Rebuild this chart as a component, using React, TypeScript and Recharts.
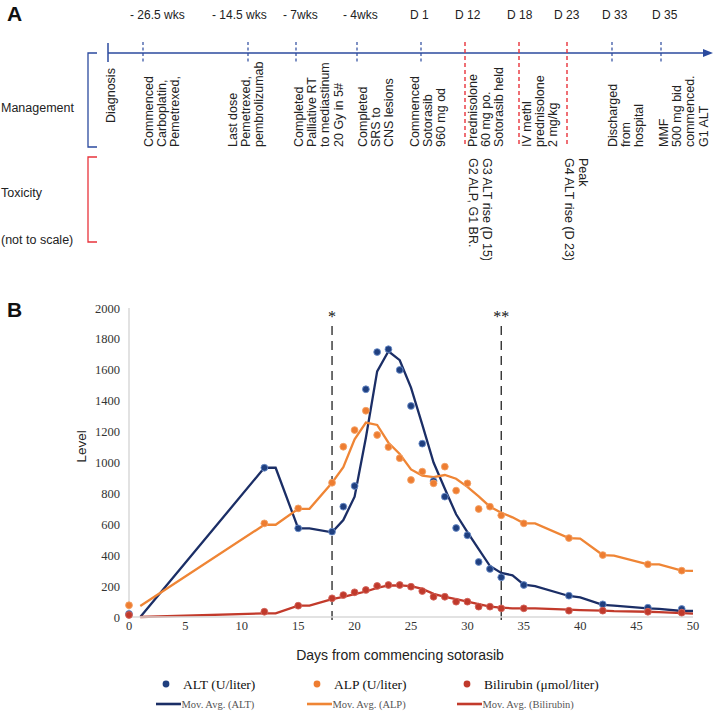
import { ComposedChart, Scatter, Line, XAxis, YAxis, ReferenceLine } from 'recharts';

const SANS = '"Liberation Sans", Arial, sans-serif';
const SERIF = '"Liberation Serif", "Times New Roman", serif';

// panel B: measured days and lab values
const pointDays = [0, 12, 15, 18, 19, 20, 21, 22, 23, 24, 25, 26, 27, 28, 29, 30, 31, 32, 33, 35, 39, 42, 46, 49];
const altValues = [20, 966, 574, 552, 714, 848, 1474, 1715, 1733, 1599, 1366, 1122, 880, 779, 576, 529, 356, 311, 257, 207, 138, 82, 60, 52];
const alpValues = [76, 606, 703, 869, 1102, 1210, 1335, 1178, 1100, 1028, 887, 941, 865, 973, 818, 865, 699, 714, 658, 606, 511, 401, 341, 300];
const biliValues = [13, 34, 73, 121, 142, 160, 175, 201, 207, 207, 196, 168, 131, 131, 99, 99, 67, 67, 56, 56, 41, 41, 34, 28];

// moving average trend lines
const maDays = [1, 12, 13, 15, 16, 18, 19, 20, 21, 22, 23, 24, 25, 26, 27, 28, 29, 30, 31, 32, 33, 34, 35, 36, 39, 40, 42, 43, 46, 47, 49, 50];
const altMA = [0, 966, 966, 574, 574, 548, 628, 779, 1160, 1590, 1720, 1662, 1485, 1245, 1000, 830, 665, 550, 440, 330, 285, 270, 210, 200, 136, 127, 78, 73, 56, 52, 39, 39];
const alpMA = [71, 597, 597, 700, 700, 869, 970, 1150, 1258, 1243, 1128, 1055, 955, 915, 905, 919, 895, 842, 780, 714, 675, 645, 606, 606, 511, 507, 401, 397, 341, 341, 300, 298];
const biliMA = [0, 24, 24, 73, 73, 115, 130, 148, 165, 188, 204, 205, 200, 182, 150, 131, 115, 99, 83, 67, 61, 56, 56, 56, 48, 45, 41, 38, 34, 31, 25, 22];

const xTicks = [0, 5, 10, 15, 20, 25, 30, 35, 40, 45, 50];
const yTicks = [0, 200, 400, 600, 800, 1000, 1200, 1400, 1600, 1800, 2000];

const markers = [
  { day: 18, label: '*' },
  { day: 33, label: '**' },
];

// panel A: timeline
const timeLabels = [
  { x: 130, text: '- 26.5 wks' },
  { x: 212, text: '- 14.5 wks' },
  { x: 283, text: '- 7wks' },
  { x: 343, text: '- 4wks' },
  { x: 410, text: 'D 1' },
  { x: 455, text: 'D 12' },
  { x: 507, text: 'D 18' },
  { x: 554, text: 'D 23' },
  { x: 602, text: 'D 33' },
  { x: 652, text: 'D 35' },
];

const eventTicks = [
  { x: 143, kind: 'mgmt' },
  { x: 248, kind: 'mgmt' },
  { x: 296, kind: 'mgmt' },
  { x: 357, kind: 'mgmt' },
  { x: 421, kind: 'mgmt' },
  { x: 465, kind: 'tox' },
  { x: 519, kind: 'tox' },
  { x: 567, kind: 'tox' },
  { x: 612, kind: 'mgmt' },
  { x: 661, kind: 'mgmt' },
];

const managementNotes = [
  { x: 110, y: 123, lines: ['Diagnosis'] },
  { x: 148, y: 147, lines: ['Commenced', 'Carboplatin,', 'Pemetrexed,'] },
  { x: 232, y: 147, lines: ['Last dose', 'Pemetrexed,', 'pembrolizumab'] },
  { x: 298, y: 147, lines: ['Completed', 'Palliative RT', 'to mediastinum', '20 Gy in 5#'] },
  { x: 362, y: 147, lines: ['Completed', 'SRS to', 'CNS lesions'] },
  { x: 414, y: 147, lines: ['Commenced', 'Sotorasib', '960 mg od'] },
  { x: 472, y: 147, lines: ['Prednisolone', '60 mg po.', 'Sotorasib held'] },
  { x: 526, y: 147, lines: ['IV methl', 'prednisolone', '2 mg/kg'] },
  { x: 612, y: 147, lines: ['Discharged', 'from', 'hospital'] },
  { x: 663, y: 147, lines: ['MMF', '500 mg bid', 'commenced.', 'G1 ALT'] },
];

const toxicityNotes = [
  { x: 487, y: 158, lines: ['G3 ALT rise (D 15)', 'G2 ALP, G1 BR.'] },
  { x: 583, y: 158, lines: ['Peak', 'G4 ALT rise (D 23)'] },
];

const legendItems = [
  { x: 166, name: 'ALT (U/liter)', ma: 'Mov. Avg. (ALT)', dot: '#1f3f7f', line: '#1b2e66' },
  { x: 317, name: 'ALP (U/liter)', ma: 'Mov. Avg. (ALP)', dot: '#ee7d31', line: '#ef8535' },
  { x: 467, name: 'Bilirubin (\u03bcmol/liter)', ma: 'Mov. Avg. (Bilirubin)', dot: '#c0392b', line: '#c23a2b' },
];

const BLUE = '#2b4a9e';
const RED = '#e8333b';
const LINE_GAP = 13.4;

const zip = (days: number[], vals: number[]) => days.map((d, i) => ({ day: d, v: vals[i] }));

function Dot(color: string, rim: string) {
  return (p: any) => <circle cx={p.cx} cy={p.cy} r={3.4} fill={color} stroke={rim} strokeWidth={0.9} />;
}

const XTick = (p: any) => (
  <text x={p.x} y={p.y + 12} textAnchor="middle" fontFamily={SERIF} fontSize={12.5} fill="#333">
    {p.payload.value}
  </text>
);

const YTick = (p: any) => (
  <text x={p.x} y={p.y + 4.5} textAnchor="end" fontFamily={SERIF} fontSize={12.5} fill="#333">
    {p.payload.value}
  </text>
);

function Timeline() {
  return (
    <svg width={714} height={260} style={{ position: 'absolute', left: 0, top: 0 }}>
      <text x={7} y={21} fontFamily={SANS} fontSize={21} fontWeight="bold" fill="#111">A</text>
      {timeLabels.map((t) => (
        <text key={t.text} x={t.x} y={18.5} fontFamily={SANS} fontSize={12} fill="#222">{t.text}</text>
      ))}
      <line x1={108} y1={53} x2={704} y2={53} stroke={BLUE} strokeWidth={1.5} />
      <polygon points="713,53 703,49 703,57" fill={BLUE} />
      <line x1={108} y1={43} x2={108} y2={62} stroke={BLUE} strokeWidth={1.5} />
      {eventTicks.map((e) =>
        e.kind === 'tox' ? (
          <line key={e.x} x1={e.x} y1={42} x2={e.x} y2={147} stroke={RED} strokeWidth={1.4} strokeDasharray="4 3" />
        ) : (
          <line key={e.x} x1={e.x} y1={42} x2={e.x} y2={62} stroke={BLUE} strokeWidth={1.2} strokeDasharray="3 2.5" />
        )
      )}
      <polyline points="97,53 88,53 88,147 97,147" fill="none" stroke={BLUE} strokeWidth={1.3} />
      <polyline points="97,157 88,157 88,242 97,242" fill="none" stroke={RED} strokeWidth={1.3} />
      <text x={1} y={111.5} fontFamily={SANS} fontSize={12.5} fill="#222">Management</text>
      <text x={1} y={196.5} fontFamily={SANS} fontSize={12.5} fill="#222">Toxicity</text>
      <text x={1} y={243.5} fontFamily={SANS} fontSize={12.5} fill="#222">(not to scale)</text>
      {managementNotes.map((n) =>
        n.lines.map((ln, i) => (
          <text
            key={n.x + ln}
            transform={`translate(${n.x + 4.5 + i * LINE_GAP},${n.y}) rotate(-90)`}
            fontFamily={SANS}
            fontSize={12.5}
            fill="#222"
          >
            {ln}
          </text>
        ))
      )}
      {toxicityNotes.map((n) =>
        n.lines.map((ln, i) => (
          <text
            key={n.x + ln}
            transform={`translate(${n.x - 4.5 - i * LINE_GAP},${n.y}) rotate(90)`}
            fontFamily={SANS}
            fontSize={12.5}
            fill="#222"
          >
            {ln}
          </text>
        ))
      )}
    </svg>
  );
}

function Legend() {
  return (
    <svg width={714} height={72} style={{ position: 'absolute', left: 0, top: 640 }}>
      <text x={400} y={20} textAnchor="middle" fontFamily={SANS} fontSize={14} fill="#222">
        Days from commencing sotorasib
      </text>
      {legendItems.map((l) => (
        <g key={l.name}>
          <circle cx={l.x} cy={44} r={3.4} fill={l.dot} />
          <text x={l.x + 17} y={48.5} fontFamily={SERIF} fontSize={13.5} fill="#111">{l.name}</text>
          <line x1={l.x - 10} y1={64} x2={l.x + 15} y2={64} stroke={l.line} strokeWidth={2.6} />
          <text x={l.x + 15.5} y={67.5} fontFamily={SERIF} fontSize={10.5} fill="#555">{l.ma}</text>
        </g>
      ))}
    </svg>
  );
}

export default function App() {
  return (
    <div style={{ position: 'absolute', left: 0, top: 0, width: 714, height: 712, background: '#fff' }}>
      <Timeline />
      <div style={{ position: 'absolute', left: 0, top: 290 }}>
        <ComposedChart width={714} height={422} margin={{ top: 18, right: 21, left: 0, bottom: 65 }}>
          <XAxis
            type="number"
            dataKey="day"
            domain={[0, 50]}
            ticks={xTicks}
            tickLine={false}
            tickSize={0}
            tickMargin={1}
            axisLine={{ stroke: '#d9d9d9', strokeWidth: 1.5 }}
            tick={XTick}
            height={30}
          />
          <YAxis
            type="number"
            domain={[0, 2000]}
            ticks={yTicks}
            tickLine={false}
            tickSize={0}
            tickMargin={9}
            axisLine={{ stroke: '#d9d9d9', strokeWidth: 1.5 }}
            tick={YTick}
            width={129}
            label={{ value: 'Level', angle: -90, position: 'insideLeft', dx: 76, fontFamily: SANS, fontSize: 13.5, fill: '#222' }}
          />
          {markers.map((m) => (
            <ReferenceLine
              key={m.day}
              segment={[{ x: m.day, y: -20 }, { x: m.day, y: 1895 }]}
              ifOverflow="visible"
              stroke="#222"
              strokeWidth={1.3}
              strokeDasharray="9 6"
              label={(p: any) => (
                <text x={p.viewBox.x} y={p.viewBox.y - 2} textAnchor="middle" fontFamily={SERIF} fontSize={16} fill="#111">
                  {m.label}
                </text>
              )}
            />
          ))}
          <Scatter data={zip(pointDays, altValues)} dataKey="v" isAnimationActive={false} shape={Dot('#1f3f7f', '#6a8cc8')} />
          <Scatter data={zip(pointDays, alpValues)} dataKey="v" isAnimationActive={false} shape={Dot('#ee7d31', '#f3a064')} />
          <Scatter data={zip(pointDays, biliValues)} dataKey="v" isAnimationActive={false} shape={Dot('#c0392b', '#d2635a')} />
          <Line data={zip(maDays, altMA)} dataKey="v" type="linear" stroke="#1b2e66" strokeWidth={2.3} dot={false} isAnimationActive={false} />
          <Line data={zip(maDays, alpMA)} dataKey="v" type="linear" stroke="#ef8535" strokeWidth={2.3} dot={false} isAnimationActive={false} />
          <Line data={zip(maDays, biliMA)} dataKey="v" type="linear" stroke="#c23a2b" strokeWidth={2.3} dot={false} isAnimationActive={false} />
        </ComposedChart>
      </div>
      <Legend />
      <svg width={40} height={30} style={{ position: 'absolute', left: 0, top: 296 }}>
        <text x={7} y={21} fontFamily={SANS} fontSize={21} fontWeight="bold" fill="#111">B</text>
      </svg>
    </div>
  );
}
